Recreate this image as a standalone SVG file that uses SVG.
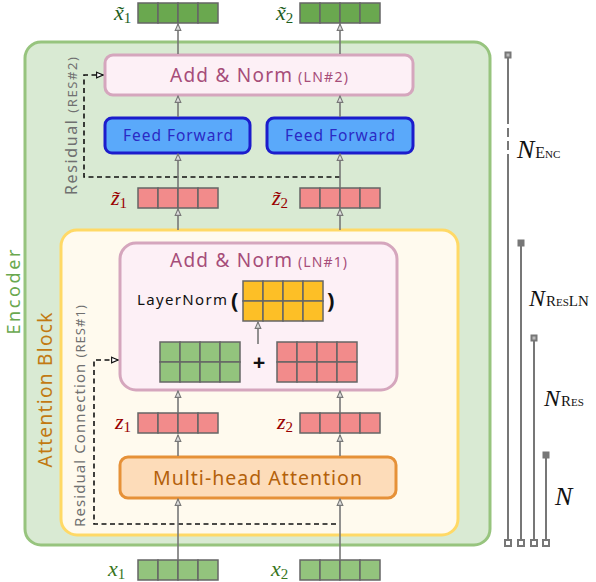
<svg xmlns="http://www.w3.org/2000/svg" xmlns:xlink="http://www.w3.org/1999/xlink" width="596" height="582" viewBox="0 0 596 582">
<style>
.cell{stroke:#666;stroke-width:1.5}
.ui{font-family:"Noto Sans",Lato,sans-serif}
.an{fill:#a64d79;font-size:19px}
.ans{fill:#a64d79;font-size:14px}
.ff{fill:#2a2ac4;font-size:15.5px}
.math{font-family:"Liberation Serif",serif;font-style:italic;font-size:22px}
.sub{font-size:15px;font-style:normal}
.arr{stroke:#777;stroke-width:1.6;fill:none;marker-end:url(#ah)}
.res{stroke:#111;stroke-width:1.6;fill:none;stroke-dasharray:5 3.5;marker-end:url(#bh)}
.bar{stroke:#777;stroke-width:2;fill:none}
.nl{font-family:"Liberation Serif",serif;fill:#111}
</style>
<defs>
<marker id="ah" viewBox="0 0 10 10" refX="9" refY="5" markerWidth="8" markerHeight="8" orient="auto" markerUnits="userSpaceOnUse"><path d="M1,1.5 L9,5 L1,8.5 z" fill="#ddd" stroke="#777" stroke-width="1.4"/></marker>
<marker id="bh" viewBox="0 0 10 10" refX="9" refY="5" markerWidth="8" markerHeight="8" orient="auto" markerUnits="userSpaceOnUse"><path d="M1,1.5 L9,5 L1,8.5 z" fill="#fff" stroke="#111" stroke-width="1.4"/></marker>
<g id="vec" class="cell"><rect x="0" y="0" width="20" height="20"/><rect x="20" y="0" width="20" height="20"/><rect x="40" y="0" width="20" height="20"/><rect x="60" y="0" width="20" height="20"/></g>
<g id="mat"><use xlink:href="#vec"/><use xlink:href="#vec" y="20"/></g>
</defs>

<g id="encoder">
<rect x="25" y="42" width="465" height="503" rx="16" fill="#d9ead3" stroke="#97c47e" stroke-width="3"/>
<text class="ui" transform="translate(20 292) rotate(-90)" text-anchor="middle" font-size="18" fill="#6aa84f" textLength="85" lengthAdjust="spacing">Encoder</text>
</g>

<g id="attention-block">
<rect x="61" y="230" width="397" height="305" rx="16" fill="#fffaee" stroke="#ffd966" stroke-width="3"/>
<text class="ui" transform="translate(52 390) rotate(-90)" text-anchor="middle" font-size="19" fill="#c27a12" textLength="155" lengthAdjust="spacing">Attention Block</text>
</g>

<g id="ln2">
<rect x="105" y="55" width="308" height="40" rx="8" fill="#fdf0f6" stroke="#d5a6bd" stroke-width="3"/>
<text class="ui an" x="170" y="82" textLength="122" lengthAdjust="spacing">Add &amp; Norm</text>
<text class="ui ans" x="298" y="82" textLength="50" lengthAdjust="spacing">(LN#2)</text>
</g>

<g id="ff1">
<rect x="105" y="118" width="145" height="35" rx="7" fill="#5aa9fa" stroke="#1c1ccc" stroke-width="3"/>
<text class="ui ff" x="123" y="141" textLength="110" lengthAdjust="spacing">Feed Forward</text>
</g>
<g id="ff2">
<rect x="267" y="118" width="146" height="35" rx="7" fill="#5aa9fa" stroke="#1c1ccc" stroke-width="3"/>
<text class="ui ff" x="285" y="141" textLength="110" lengthAdjust="spacing">Feed Forward</text>
</g>

<g id="ln1">
<rect x="120" y="243" width="277" height="147" rx="16" fill="#fdf0f6" stroke="#d5a6bd" stroke-width="3"/>
<text class="ui an" x="170" y="267" textLength="122" lengthAdjust="spacing">Add &amp; Norm</text>
<text class="ui ans" x="298" y="267" textLength="49" lengthAdjust="spacing">(LN#1)</text>
<text class="ui" x="137" y="305" font-size="15" fill="#111" textLength="90" lengthAdjust="spacing">LayerNorm</text>
<text class="ui" x="231" y="308" font-size="22" font-weight="bold" fill="#111">(</text>
<use xlink:href="#mat" x="243" y="281" fill="#fdbf26"/>
<text class="ui" x="327" y="308" font-size="22" font-weight="bold" fill="#111">)</text>
<use xlink:href="#mat" x="160" y="342" fill="#93c47d"/>
<text class="ui" x="259" y="370" text-anchor="middle" font-size="22" font-weight="bold" fill="#111">+</text>
<use xlink:href="#mat" x="277" y="342" fill="#f28b8b"/>
</g>

<g id="mha">
<rect x="120" y="457" width="276" height="41" rx="8" fill="#fddcb9" stroke="#e69138" stroke-width="3"/>
<text class="ui" x="153" y="485" font-size="19.5" fill="#b4610a" textLength="209" lengthAdjust="spacing">Multi-head Attention</text>
</g>

<g id="out1"><use xlink:href="#vec" x="138" y="3" fill="#6aa84f"/><text class="math" x="114" y="20" fill="#1e5e1e">x̃<tspan class="sub" dy="3">1</tspan></text></g>
<g id="out2"><use xlink:href="#vec" x="300" y="3" fill="#6aa84f"/><text class="math" x="276" y="20" fill="#1e5e1e">x̃<tspan class="sub" dy="3">2</tspan></text></g>
<g id="zt1"><use xlink:href="#vec" x="138" y="188" fill="#f28b8b"/><text class="math" x="111" y="205" fill="#990000">z̃<tspan class="sub" dy="3">1</tspan></text></g>
<g id="zt2"><use xlink:href="#vec" x="300" y="188" fill="#f28b8b"/><text class="math" x="272" y="205" fill="#990000">z̃<tspan class="sub" dy="3">2</tspan></text></g>
<g id="z1"><use xlink:href="#vec" x="138" y="413" fill="#f28b8b"/><text class="math" x="115" y="429" fill="#990000">z<tspan class="sub" dy="3">1</tspan></text></g>
<g id="z2"><use xlink:href="#vec" x="300" y="413" fill="#f28b8b"/><text class="math" x="277" y="429" fill="#990000">z<tspan class="sub" dy="3">2</tspan></text></g>
<g id="in1"><use xlink:href="#vec" x="138" y="560" fill="#93c47d"/><text class="math" x="108" y="576" fill="#38761d">x<tspan class="sub" dy="3">1</tspan></text></g>
<g id="in2"><use xlink:href="#vec" x="300" y="560" fill="#93c47d"/><text class="math" x="271" y="576" fill="#38761d">x<tspan class="sub" dy="3">2</tspan></text></g>

<g id="connectors">
<path class="res" d="M336 524 H94 V360 H118"/>
<path class="res" d="M340 177 H84 V75 H103"/>
<path class="arr" d="M178 560 V499"/>
<path class="arr" d="M340 560 V499"/>
<path class="arr" d="M178 456 V435"/>
<path class="arr" d="M340 456 V435"/>
<path class="arr" d="M178 412 V391"/>
<path class="arr" d="M340 412 V391"/>
<path class="arr" d="M258 344 V322"/>
<path class="arr" d="M178 230 V209"/>
<path class="arr" d="M340 230 V209"/>
<path class="arr" d="M178 187 V154"/>
<path class="arr" d="M340 187 V154"/>
<path class="arr" d="M178 117 V96"/>
<path class="arr" d="M340 117 V96"/>
<path class="arr" d="M178 54 V24"/>
<path class="arr" d="M340 54 V24"/>
</g>

<g id="res-labels" fill="#707070" class="ui">
<text transform="translate(77 126) rotate(-90)" text-anchor="middle" textLength="138" lengthAdjust="spacing"><tspan font-size="16">Residual </tspan><tspan font-size="13">(RES#2)</tspan></text>
<text transform="translate(85 416) rotate(-90)" text-anchor="middle" textLength="222" lengthAdjust="spacing"><tspan font-size="15">Residual Connection </tspan><tspan font-size="13">(RES#1)</tspan></text>
</g>

<g id="depth-bars">
<path class="bar" d="M508 56 V115"/>
<path class="bar" d="M508 115 V155" stroke-dasharray="9 4"/>
<path class="bar" d="M508 155 V541"/>
<path class="bar" d="M521 244 V541"/>
<path class="bar" d="M534 339 V541"/>
<path class="bar" d="M546 456 V541"/>
<g fill="#777">
<rect x="504.5" y="51.5" width="7" height="7"/><rect x="506.5" y="53.5" width="3" height="3" fill="#bbb"/>
<rect x="517.5" y="239.5" width="7" height="7"/>
<rect x="530.5" y="334.5" width="7" height="7"/><rect x="532.5" y="336.5" width="3" height="3" fill="#bbb"/>
<rect x="542.5" y="451.5" width="7" height="7"/>
</g>
<g fill="#fff" stroke="#777" stroke-width="2">
<rect x="505" y="540" width="6" height="6"/>
<rect x="518" y="540" width="6" height="6"/>
<rect x="531" y="540" width="6" height="6"/>
<rect x="543" y="540" width="6" height="6"/>
</g>
<text class="nl" x="517" y="158"><tspan font-size="26" font-style="italic">N</tspan><tspan font-size="16" font-variant="small-caps" dx="1">Enc</tspan></text>
<text class="nl" x="529" y="306"><tspan font-size="24" font-style="italic">N</tspan><tspan font-size="15" font-variant="small-caps" dx="1">ResLN</tspan></text>
<text class="nl" x="544" y="406"><tspan font-size="24" font-style="italic">N</tspan><tspan font-size="15" font-variant="small-caps" dx="1">Res</tspan></text>
<text class="nl" x="555" y="505" font-size="26" font-style="italic">N</text>
</g>
</svg>
